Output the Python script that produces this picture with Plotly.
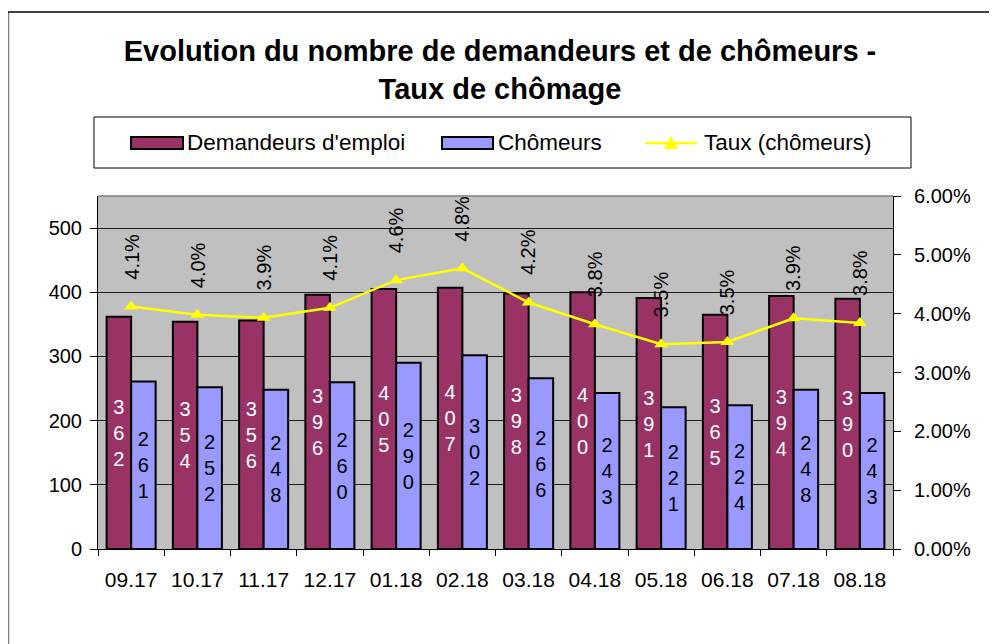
import plotly.graph_objects as go

months = ["09.17", "10.17", "11.17", "12.17", "01.18", "02.18",
          "03.18", "04.18", "05.18", "06.18", "07.18", "08.18"]
demandeurs = [362, 354, 356, 396, 405, 407, 398, 400, 391, 365, 394, 390]
chomeurs = [261, 252, 248, 260, 290, 302, 266, 243, 221, 224, 248, 243]
taux_pct = [4.12, 3.98, 3.93, 4.10, 4.57, 4.77, 4.19, 3.82, 3.48, 3.52, 3.92, 3.84]

FONT = "Liberation Sans, Arial, sans-serif"
OFF = 8  # page body margin
W, H = 997 - OFF, 644 - OFF
L, R, T, B = 90, 104, 188, 95
PW, PH = W - L - R, H - T - B


def px(x):  # page pixel -> paper
    return (x - OFF - L) / PW


def py(y):
    return (H - B - (y - OFF)) / PH


def stack(v):
    return "<br>".join(str(v))


taux = [t / 100 for t in taux_pct]
idx = list(range(len(months)))

fig = go.Figure()
fig.add_trace(go.Bar(
    x=months, y=demandeurs, name="Demandeurs d'emploi",
    marker=dict(color="#993366", line=dict(color="black", width=2)),
    text=[stack(v) for v in demandeurs], textposition="inside",
    insidetextanchor="middle", textangle=0,
    textfont=dict(family=FONT, size=20, color="white"),
))
fig.add_trace(go.Bar(
    x=months, y=chomeurs, name="Chômeurs",
    marker=dict(color="#9999FF", line=dict(color="black", width=2)),
    text=[stack(v) for v in chomeurs], textposition="inside",
    insidetextanchor="middle", textangle=0,
    textfont=dict(family=FONT, size=20, color="black"),
))
fig.add_trace(go.Scatter(
    x=months, y=taux, name="Taux (chômeurs)", yaxis="y2",
    mode="lines+markers",
    line=dict(color="#FFFF00", width=2.5),
    marker=dict(symbol="triangle-up", size=12, color="#FFFF00"),
))

annotations = []
for i, t in zip(idx, taux):
    annotations.append(dict(
        x=i, y=t, xref="x", yref="y2", text=f"{t*100:.1f}%",
        textangle=-90, showarrow=False, yanchor="bottom", xanchor="center",
        yshift=25, font=dict(family=FONT, size=20, color="black"),
    ))

# custom legend
leg_y = 143
legend_items = [
    ("bar", 131, 183, 185, "Demandeurs d'emploi", "#993366"),
    ("bar", 442, 493, 496, "Chômeurs", "#9999FF"),
    ("line", 645, 697, 702, "Taux (chômeurs)", "#FFFF00"),
]
shapes = [
    # outer frame (left and top edges)
    dict(type="line", xref="paper", yref="paper", x0=px(8.5), x1=px(8.5),
         y0=py(12), y1=py(700), line=dict(color="#808080", width=1.5)),
    dict(type="line", xref="paper", yref="paper", x0=px(8), x1=px(1100),
         y0=py(12), y1=py(12), line=dict(color="black", width=1.5)),
    # plot area top border
    dict(type="line", xref="paper", yref="paper", x0=0, x1=1, y0=1, y1=1,
         line=dict(color="#808080", width=1.5)),
    # legend box
    dict(type="rect", xref="paper", yref="paper", x0=px(94), x1=px(911),
         y0=py(117), y1=py(168), line=dict(color="black", width=1),
         fillcolor="white"),
]
for kind, x0, x1, tx, label, col in legend_items:
    if kind == "bar":
        shapes.append(dict(type="rect", xref="paper", yref="paper",
                           x0=px(x0), x1=px(x1), y0=py(leg_y - 6), y1=py(leg_y + 6),
                           fillcolor=col, line=dict(color="black", width=2)))
    else:
        shapes.append(dict(type="line", xref="paper", yref="paper",
                           x0=px(x0), x1=px(x1), y0=py(leg_y), y1=py(leg_y),
                           line=dict(color=col, width=2.5)))
        cx = (x0 + x1) / 2
        path = (f"M {px(cx - 7)} {py(leg_y + 6)} L {px(cx + 7)} {py(leg_y + 6)} "
                f"L {px(cx)} {py(leg_y - 7)} Z")
        shapes.append(dict(type="path", xref="paper", yref="paper", path=path,
                           fillcolor=col, line=dict(color=col, width=0)))
    annotations.append(dict(
        x=px(tx), y=py(leg_y), xref="paper", yref="paper", text=label,
        showarrow=False, xanchor="left", yanchor="middle",
        font=dict(family=FONT, size=22.5, color="black"),
    ))

fig.update_layout(
    width=W, height=H,
    margin=dict(l=L, r=R, t=T, b=B, pad=0),
    paper_bgcolor="white", plot_bgcolor="#C0C0C0",
    barmode="group", bargap=0.26, bargroupgap=0,
    showlegend=False,
    title=dict(
        text="<b>Evolution du nombre de demandeurs et de chômeurs -<br>Taux de chômage</b>",
        x=(500 - OFF) / W, xref="container", xanchor="center",
        y=1 - 53 / H, yref="container", yanchor="middle",
        font=dict(family=FONT, size=29, color="black"),
    ),
    xaxis=dict(
        type="category", range=[-0.5, 11.5], showgrid=False, ticks="outside",
        tickson="boundaries", ticklen=6, tickcolor="black", showline=True,
        linecolor="black", linewidth=1, ticklabelstandoff=12,
        tickfont=dict(family=FONT, size=21, color="black"),
    ),
    yaxis=dict(
        range=[0, 550], dtick=100, tick0=0, showgrid=True, gridcolor="#202020",
        gridwidth=1, zeroline=False, ticks="outside", ticklen=7,
        tickcolor="black", showline=True, linecolor="black", linewidth=1,
        ticklabelstandoff=4,
        tickfont=dict(family=FONT, size=20, color="black"),
    ),
    yaxis2=dict(
        overlaying="y", side="right", range=[0, 0.06], dtick=0.01, tick0=0,
        tickformat=".2%", showgrid=False, zeroline=False, ticks="outside",
        ticklen=7, tickcolor="black", showline=True, linecolor="black",
        linewidth=1, ticklabelstandoff=9,
        tickfont=dict(family=FONT, size=20, color="black"),
    ),
    annotations=annotations,
    shapes=shapes,
)

fig.write_html("out.html")
